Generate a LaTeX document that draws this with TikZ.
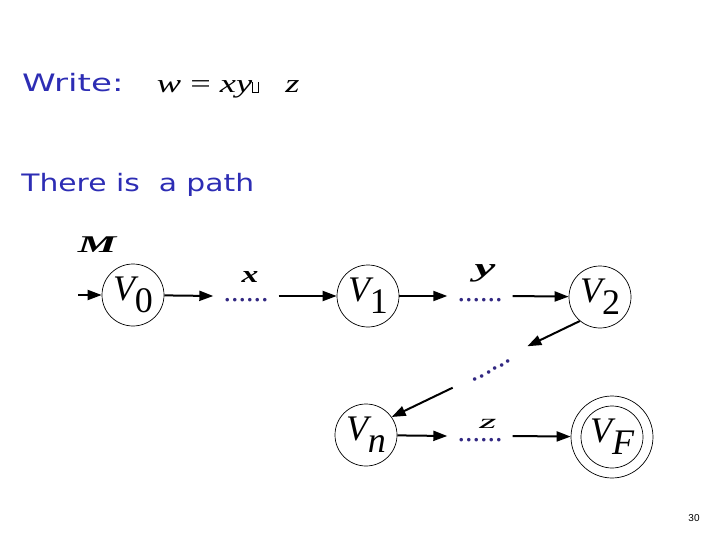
\documentclass[tikz,border=0pt]{standalone}
\usepackage{fontspec}
\setmainfont{Liberation Serif}
\newfontfamily\comicf{DejaVu Sans}
\newfontfamily\pagef{Liberation Sans}
\usetikzlibrary{arrows.meta}
\definecolor{writeblue}{RGB}{45,45,180}
\definecolor{dotblue}{RGB}{50,40,130}
\newcommand\Vsub[1]{{\itshape V}\raisebox{-12pt}{#1}}
\newcommand\boxglyph{\rule{0.6pt}{11pt}\rule{3.5pt}{0.6pt}\rule{0.6pt}{11pt}}
\tikzset{
  state/.style={circle,draw,line width=0.7pt,minimum size=62pt,inner sep=0pt,
    font=\fontsize{36}{36}\selectfont},
  arr/.style={line width=2pt,-{Triangle[length=14pt,width=10pt]}},
  dotsnode/.style={text=dotblue,font=\fontsize{30}{30}\selectfont,inner xsep=10pt,
    inner ysep=0pt,text height=11pt,text depth=0pt},
  bigtext/.style={anchor=base west,text=writeblue,
    font=\comicf\fontsize{24}{24}\selectfont},
  arclab/.style={font=\fontsize{24}{24}\selectfont\bfseries\itshape}
}
\begin{document}
\begin{tikzpicture}[x=1pt,y=-1pt]
\useasboundingbox (0,0) rectangle (720,540);
\node[bigtext,xscale=1.42] (write) at (17,92) {Write:};
\node[anchor=base west,font=\fontsize{26}{26}\selectfont,xscale=1.4] (formula) at (152,93)
  {{\itshape w} = {\itshape xy}\boxglyph\hspace{19pt}{\itshape z}};
\node[bigtext,xscale=1.24] (there) at (17,192) {There is\ \ a path};
\node[arclab,xscale=1.8] (mlab) at (97,245) {M};
% states
\node[state] (v0) at (133,295) {\Vsub{0}};
\node[state] (v1) at (368,296) {\Vsub{1}};
\node[state] (v2) at (600,297) {\Vsub{2}};
\node[state] (vn) at (366,435) {\Vsub{\itshape n}};
\node[state] (vf) at (612,437) {\Vsub{\itshape F}};
\node[circle,draw,line width=0.7pt,minimum size=82pt,inner sep=0pt] (vfo) at (612,437) {};
% dots
\node[dotsnode] (d1) at (246,296) {......};
\node[dotsnode] (d2) at (480,296) {......};
\node[dotsnode] (d3) at (480,436) {......};
\node[dotsnode,rotate=29,inner xsep=20pt] (dd) at (490,367) {......};
% labels
\node[arclab,xscale=1.4] (xl) at (250,277) {x};
\node[arclab,font=\fontsize{26}{26}\selectfont\bfseries\itshape,xscale=1.8] (yl) at (485,273) {y};
\node[font=\fontsize{20}{20}\selectfont\itshape,xscale=2.2] (zl) at (488,424) {z};
% arrows
\coordinate (start) at (78,295);
\draw[arr] (start) -- (v0);
\draw[arr] (v0) -- (d1.west);
\draw[arr] (d1.east) -- (v1);
\draw[arr] (v1) -- (d2.west);
\draw[arr] (d2.east) -- (v2);
\draw[arr] (v2.230) -- (dd.east);
\draw[arr] (dd.west) -- (vn.35);
\draw[arr] (vn) -- (d3.west);
\draw[arr] (d3.east) -- (vfo);
\node[anchor=base,font=\pagef\fontsize{10}{10}\selectfont] (page) at (694,521) {30};
\end{tikzpicture}
\end{document}
